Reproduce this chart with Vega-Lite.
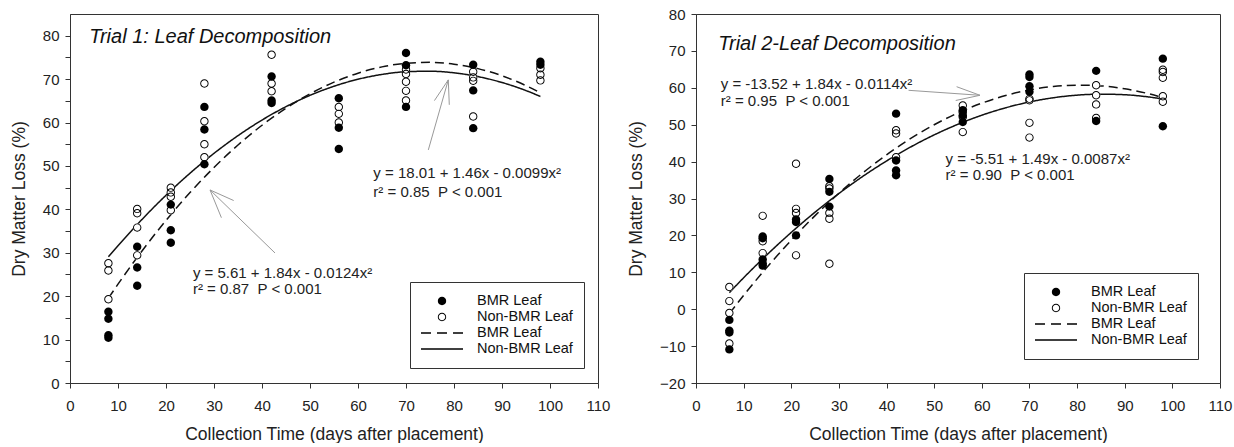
{
  "$schema": "https://vega.github.io/schema/vega-lite/v6.json",
  "padding": {"left": 9, "top": 6, "right": 0, "bottom": 0},
  "background": "white",
  "config": {
    "font": "Liberation Sans",
    "view": {"stroke": "#333", "strokeWidth": 1},
    "axis": {"domainColor": "#333", "domainWidth": 1, "tickColor": "#333", "tickSize": 5, "tickWidth": 1, "labelFont": "Liberation Sans", "labelFontSize": 15, "labelColor": "#222", "titleFont": "Liberation Sans", "titleFontSize": 17.5, "titleFontWeight": "normal", "titleColor": "#222", "grid": false, "labelFlush": false, "labelOverlap": false},
    "axisX": {"labelPadding": 10, "titlePadding": 12},
    "axisY": {"labelPadding": 6, "titlePadding": 14}
  },
  "datasets": {
    "t1pts": [
      {"day": 8, "loss": 16.4, "type": "BMR Leaf"}, {"day": 8, "loss": 14.8, "type": "BMR Leaf"}, {"day": 8, "loss": 11.0, "type": "BMR Leaf"}, {"day": 8, "loss": 10.4, "type": "BMR Leaf"},
      {"day": 14, "loss": 31.4, "type": "BMR Leaf"}, {"day": 14, "loss": 26.6, "type": "BMR Leaf"}, {"day": 14, "loss": 22.4, "type": "BMR Leaf"},
      {"day": 21, "loss": 41.1, "type": "BMR Leaf"}, {"day": 21, "loss": 35.2, "type": "BMR Leaf"}, {"day": 21, "loss": 32.3, "type": "BMR Leaf"},
      {"day": 28, "loss": 63.6, "type": "BMR Leaf"}, {"day": 28, "loss": 58.4, "type": "BMR Leaf"}, {"day": 28, "loss": 50.4, "type": "BMR Leaf"},
      {"day": 42, "loss": 70.6, "type": "BMR Leaf"}, {"day": 42, "loss": 65.1, "type": "BMR Leaf"}, {"day": 42, "loss": 64.5, "type": "BMR Leaf"},
      {"day": 56, "loss": 65.6, "type": "BMR Leaf"}, {"day": 56, "loss": 58.8, "type": "BMR Leaf"}, {"day": 56, "loss": 53.9, "type": "BMR Leaf"},
      {"day": 70, "loss": 76.0, "type": "BMR Leaf"}, {"day": 70, "loss": 73.2, "type": "BMR Leaf"}, {"day": 70, "loss": 63.6, "type": "BMR Leaf"},
      {"day": 84, "loss": 73.3, "type": "BMR Leaf"}, {"day": 84, "loss": 67.4, "type": "BMR Leaf"}, {"day": 84, "loss": 58.7, "type": "BMR Leaf"},
      {"day": 98, "loss": 74.0, "type": "BMR Leaf"}, {"day": 98, "loss": 73.3, "type": "BMR Leaf"},
      {"day": 8, "loss": 27.6, "type": "Non-BMR Leaf"}, {"day": 8, "loss": 25.9, "type": "Non-BMR Leaf"}, {"day": 8, "loss": 19.3, "type": "Non-BMR Leaf"},
      {"day": 14, "loss": 40.1, "type": "Non-BMR Leaf"}, {"day": 14, "loss": 39.1, "type": "Non-BMR Leaf"}, {"day": 14, "loss": 35.8, "type": "Non-BMR Leaf"}, {"day": 14, "loss": 29.4, "type": "Non-BMR Leaf"},
      {"day": 21, "loss": 45.0, "type": "Non-BMR Leaf"}, {"day": 21, "loss": 43.9, "type": "Non-BMR Leaf"}, {"day": 21, "loss": 42.9, "type": "Non-BMR Leaf"}, {"day": 21, "loss": 39.8, "type": "Non-BMR Leaf"},
      {"day": 28, "loss": 69.0, "type": "Non-BMR Leaf"}, {"day": 28, "loss": 60.3, "type": "Non-BMR Leaf"}, {"day": 28, "loss": 55.0, "type": "Non-BMR Leaf"}, {"day": 28, "loss": 52.0, "type": "Non-BMR Leaf"},
      {"day": 42, "loss": 75.6, "type": "Non-BMR Leaf"}, {"day": 42, "loss": 69.0, "type": "Non-BMR Leaf"}, {"day": 42, "loss": 67.2, "type": "Non-BMR Leaf"},
      {"day": 56, "loss": 63.6, "type": "Non-BMR Leaf"}, {"day": 56, "loss": 62.0, "type": "Non-BMR Leaf"}, {"day": 56, "loss": 60.0, "type": "Non-BMR Leaf"},
      {"day": 70, "loss": 72.2, "type": "Non-BMR Leaf"}, {"day": 70, "loss": 71.2, "type": "Non-BMR Leaf"}, {"day": 70, "loss": 69.4, "type": "Non-BMR Leaf"}, {"day": 70, "loss": 67.3, "type": "Non-BMR Leaf"}, {"day": 70, "loss": 65.1, "type": "Non-BMR Leaf"},
      {"day": 84, "loss": 71.7, "type": "Non-BMR Leaf"}, {"day": 84, "loss": 70.4, "type": "Non-BMR Leaf"}, {"day": 84, "loss": 69.6, "type": "Non-BMR Leaf"}, {"day": 84, "loss": 61.4, "type": "Non-BMR Leaf"},
      {"day": 98, "loss": 72.5, "type": "Non-BMR Leaf"}, {"day": 98, "loss": 71.0, "type": "Non-BMR Leaf"}, {"day": 98, "loss": 69.7, "type": "Non-BMR Leaf"}
    ],
    "t1fit": [
      {"day": 8, "loss": 19.54, "type": "BMR Leaf"}, {"day": 10, "loss": 22.77, "type": "BMR Leaf"}, {"day": 15, "loss": 30.42, "type": "BMR Leaf"}, {"day": 20, "loss": 37.45, "type": "BMR Leaf"}, {"day": 25, "loss": 43.86, "type": "BMR Leaf"}, {"day": 30, "loss": 49.65, "type": "BMR Leaf"}, {"day": 35, "loss": 54.82, "type": "BMR Leaf"}, {"day": 40, "loss": 59.37, "type": "BMR Leaf"}, {"day": 45, "loss": 63.30, "type": "BMR Leaf"}, {"day": 50, "loss": 66.61, "type": "BMR Leaf"}, {"day": 55, "loss": 69.30, "type": "BMR Leaf"}, {"day": 60, "loss": 71.37, "type": "BMR Leaf"}, {"day": 65, "loss": 72.82, "type": "BMR Leaf"}, {"day": 70, "loss": 73.65, "type": "BMR Leaf"}, {"day": 75, "loss": 73.86, "type": "BMR Leaf"}, {"day": 80, "loss": 73.45, "type": "BMR Leaf"}, {"day": 85, "loss": 72.42, "type": "BMR Leaf"}, {"day": 90, "loss": 70.77, "type": "BMR Leaf"}, {"day": 95, "loss": 68.50, "type": "BMR Leaf"}, {"day": 98, "loss": 66.84, "type": "BMR Leaf"},
      {"day": 8, "loss": 29.06, "type": "Non-BMR Leaf"}, {"day": 10, "loss": 31.62, "type": "Non-BMR Leaf"}, {"day": 15, "loss": 37.68, "type": "Non-BMR Leaf"}, {"day": 20, "loss": 43.25, "type": "Non-BMR Leaf"}, {"day": 25, "loss": 48.32, "type": "Non-BMR Leaf"}, {"day": 30, "loss": 52.90, "type": "Non-BMR Leaf"}, {"day": 35, "loss": 56.98, "type": "Non-BMR Leaf"}, {"day": 40, "loss": 60.57, "type": "Non-BMR Leaf"}, {"day": 45, "loss": 63.66, "type": "Non-BMR Leaf"}, {"day": 50, "loss": 66.26, "type": "Non-BMR Leaf"}, {"day": 55, "loss": 68.36, "type": "Non-BMR Leaf"}, {"day": 60, "loss": 69.97, "type": "Non-BMR Leaf"}, {"day": 65, "loss": 71.08, "type": "Non-BMR Leaf"}, {"day": 70, "loss": 71.70, "type": "Non-BMR Leaf"}, {"day": 75, "loss": 71.82, "type": "Non-BMR Leaf"}, {"day": 80, "loss": 71.45, "type": "Non-BMR Leaf"}, {"day": 85, "loss": 70.58, "type": "Non-BMR Leaf"}, {"day": 90, "loss": 69.22, "type": "Non-BMR Leaf"}, {"day": 95, "loss": 67.36, "type": "Non-BMR Leaf"}, {"day": 98, "loss": 66.01, "type": "Non-BMR Leaf"}
    ],
    "t1notes": [
      {"day": 25.6, "loss": 25.3, "label": "y = 5.61 + 1.84x - 0.0124x²"},
      {"day": 25.6, "loss": 21.7, "label": "r² = 0.87 \u00a0P < 0.001"},
      {"day": 63.2, "loss": 48.3, "label": "y = 18.01 + 1.46x - 0.0099x²"},
      {"day": 63.2, "loss": 44.1, "label": "r² = 0.85 \u00a0P < 0.001"}
    ],
    "t1title": [{"day": 4.0, "loss": 79.8, "label": "Trial 1: Leaf Decomposition"}],
    "t1arrows": [
      {"day": 42.71, "loss": 29.95, "day2": 29.17, "loss2": 44.47},
      {"day": 29.17, "loss": 44.47, "day2": 31.54, "loss2": 38.08},
      {"day": 29.17, "loss": 44.47, "day2": 34.10, "loss2": 42.03},
      {"day": 74.65, "loss": 53.69, "day2": 78.81, "loss2": 69.82},
      {"day": 78.81, "loss": 69.82, "day2": 75.92, "loss2": 65.05},
      {"day": 78.81, "loss": 69.82, "day2": 79.02, "loss2": 64.08}
    ],
    "t2pts": [
      {"day": 7, "loss": -2.9, "type": "BMR Leaf"}, {"day": 7, "loss": -5.8, "type": "BMR Leaf"}, {"day": 7, "loss": -6.3, "type": "BMR Leaf"}, {"day": 7, "loss": -10.9, "type": "BMR Leaf"},
      {"day": 14, "loss": 19.7, "type": "BMR Leaf"}, {"day": 14, "loss": 19.2, "type": "BMR Leaf"}, {"day": 14, "loss": 13.5, "type": "BMR Leaf"}, {"day": 14, "loss": 12.4, "type": "BMR Leaf"}, {"day": 14, "loss": 11.8, "type": "BMR Leaf"},
      {"day": 21, "loss": 24.3, "type": "BMR Leaf"}, {"day": 21, "loss": 23.6, "type": "BMR Leaf"}, {"day": 21, "loss": 20.0, "type": "BMR Leaf"},
      {"day": 28, "loss": 35.3, "type": "BMR Leaf"}, {"day": 28, "loss": 31.8, "type": "BMR Leaf"}, {"day": 28, "loss": 27.8, "type": "BMR Leaf"},
      {"day": 42, "loss": 53.0, "type": "BMR Leaf"}, {"day": 42, "loss": 40.3, "type": "BMR Leaf"}, {"day": 42, "loss": 37.6, "type": "BMR Leaf"}, {"day": 42, "loss": 36.3, "type": "BMR Leaf"},
      {"day": 56, "loss": 53.9, "type": "BMR Leaf"}, {"day": 56, "loss": 52.5, "type": "BMR Leaf"}, {"day": 56, "loss": 50.7, "type": "BMR Leaf"},
      {"day": 70, "loss": 63.6, "type": "BMR Leaf"}, {"day": 70, "loss": 62.9, "type": "BMR Leaf"}, {"day": 70, "loss": 60.4, "type": "BMR Leaf"}, {"day": 70, "loss": 58.9, "type": "BMR Leaf"},
      {"day": 84, "loss": 64.6, "type": "BMR Leaf"}, {"day": 84, "loss": 51.0, "type": "BMR Leaf"},
      {"day": 98, "loss": 67.9, "type": "BMR Leaf"}, {"day": 98, "loss": 49.6, "type": "BMR Leaf"},
      {"day": 7, "loss": 6.0, "type": "Non-BMR Leaf"}, {"day": 7, "loss": 2.2, "type": "Non-BMR Leaf"}, {"day": 7, "loss": -1.0, "type": "Non-BMR Leaf"}, {"day": 7, "loss": -9.3, "type": "Non-BMR Leaf"},
      {"day": 14, "loss": 25.3, "type": "Non-BMR Leaf"}, {"day": 14, "loss": 18.4, "type": "Non-BMR Leaf"}, {"day": 14, "loss": 15.2, "type": "Non-BMR Leaf"},
      {"day": 21, "loss": 39.4, "type": "Non-BMR Leaf"}, {"day": 21, "loss": 27.2, "type": "Non-BMR Leaf"}, {"day": 21, "loss": 26.1, "type": "Non-BMR Leaf"}, {"day": 21, "loss": 14.6, "type": "Non-BMR Leaf"},
      {"day": 28, "loss": 33.3, "type": "Non-BMR Leaf"}, {"day": 28, "loss": 32.7, "type": "Non-BMR Leaf"}, {"day": 28, "loss": 26.1, "type": "Non-BMR Leaf"}, {"day": 28, "loss": 24.5, "type": "Non-BMR Leaf"}, {"day": 28, "loss": 12.3, "type": "Non-BMR Leaf"},
      {"day": 42, "loss": 48.5, "type": "Non-BMR Leaf"}, {"day": 42, "loss": 47.6, "type": "Non-BMR Leaf"}, {"day": 42, "loss": 41.2, "type": "Non-BMR Leaf"},
      {"day": 56, "loss": 55.2, "type": "Non-BMR Leaf"}, {"day": 56, "loss": 53.4, "type": "Non-BMR Leaf"}, {"day": 56, "loss": 52.1, "type": "Non-BMR Leaf"}, {"day": 56, "loss": 48.0, "type": "Non-BMR Leaf"},
      {"day": 70, "loss": 57.0, "type": "Non-BMR Leaf"}, {"day": 70, "loss": 56.6, "type": "Non-BMR Leaf"}, {"day": 70, "loss": 50.5, "type": "Non-BMR Leaf"}, {"day": 70, "loss": 46.5, "type": "Non-BMR Leaf"},
      {"day": 84, "loss": 60.7, "type": "Non-BMR Leaf"}, {"day": 84, "loss": 58.0, "type": "Non-BMR Leaf"}, {"day": 84, "loss": 55.5, "type": "Non-BMR Leaf"}, {"day": 84, "loss": 51.8, "type": "Non-BMR Leaf"},
      {"day": 98, "loss": 64.9, "type": "Non-BMR Leaf"}, {"day": 98, "loss": 64.3, "type": "Non-BMR Leaf"}, {"day": 98, "loss": 62.7, "type": "Non-BMR Leaf"}, {"day": 98, "loss": 57.7, "type": "Non-BMR Leaf"}, {"day": 98, "loss": 56.2, "type": "Non-BMR Leaf"}
    ],
    "t2fit": [
      {"day": 7, "loss": -1.20, "type": "BMR Leaf"}, {"day": 10, "loss": 3.74, "type": "BMR Leaf"}, {"day": 15, "loss": 11.52, "type": "BMR Leaf"}, {"day": 20, "loss": 18.72, "type": "BMR Leaf"}, {"day": 25, "loss": 25.36, "type": "BMR Leaf"}, {"day": 30, "loss": 31.42, "type": "BMR Leaf"}, {"day": 35, "loss": 36.92, "type": "BMR Leaf"}, {"day": 40, "loss": 41.84, "type": "BMR Leaf"}, {"day": 45, "loss": 46.20, "type": "BMR Leaf"}, {"day": 50, "loss": 49.98, "type": "BMR Leaf"}, {"day": 55, "loss": 53.20, "type": "BMR Leaf"}, {"day": 60, "loss": 55.84, "type": "BMR Leaf"}, {"day": 65, "loss": 57.92, "type": "BMR Leaf"}, {"day": 70, "loss": 59.42, "type": "BMR Leaf"}, {"day": 75, "loss": 60.36, "type": "BMR Leaf"}, {"day": 80, "loss": 60.72, "type": "BMR Leaf"}, {"day": 85, "loss": 60.52, "type": "BMR Leaf"}, {"day": 90, "loss": 59.74, "type": "BMR Leaf"}, {"day": 95, "loss": 58.40, "type": "BMR Leaf"}, {"day": 98, "loss": 57.31, "type": "BMR Leaf"},
      {"day": 7, "loss": 4.49, "type": "Non-BMR Leaf"}, {"day": 10, "loss": 8.52, "type": "Non-BMR Leaf"}, {"day": 15, "loss": 14.88, "type": "Non-BMR Leaf"}, {"day": 20, "loss": 20.81, "type": "Non-BMR Leaf"}, {"day": 25, "loss": 26.30, "type": "Non-BMR Leaf"}, {"day": 30, "loss": 31.36, "type": "Non-BMR Leaf"}, {"day": 35, "loss": 35.98, "type": "Non-BMR Leaf"}, {"day": 40, "loss": 40.17, "type": "Non-BMR Leaf"}, {"day": 45, "loss": 43.92, "type": "Non-BMR Leaf"}, {"day": 50, "loss": 47.24, "type": "Non-BMR Leaf"}, {"day": 55, "loss": 50.12, "type": "Non-BMR Leaf"}, {"day": 60, "loss": 52.57, "type": "Non-BMR Leaf"}, {"day": 65, "loss": 54.58, "type": "Non-BMR Leaf"}, {"day": 70, "loss": 56.16, "type": "Non-BMR Leaf"}, {"day": 75, "loss": 57.30, "type": "Non-BMR Leaf"}, {"day": 80, "loss": 58.01, "type": "Non-BMR Leaf"}, {"day": 85, "loss": 58.28, "type": "Non-BMR Leaf"}, {"day": 90, "loss": 58.12, "type": "Non-BMR Leaf"}, {"day": 95, "loss": 57.52, "type": "Non-BMR Leaf"}, {"day": 98, "loss": 56.96, "type": "Non-BMR Leaf"}
    ],
    "t2notes": [
      {"day": 5.2, "loss": 61.1, "label": "y = -13.52 + 1.84x - 0.0114x²"},
      {"day": 5.2, "loss": 56.4, "label": "r² = 0.95 \u00a0P < 0.001"},
      {"day": 52.4, "loss": 40.8, "label": "y = -5.51 + 1.49x - 0.0087x²"},
      {"day": 52.4, "loss": 36.3, "label": "r² = 0.90 \u00a0P < 0.001"}
    ],
    "t2title": [{"day": 4.67, "loss": 72.0, "label": "Trial 2-Leaf Decomposition"}],
    "t2arrows": [
      {"day": 44.62, "loss": 59.32, "day2": 59.62, "loss2": 57.97},
      {"day": 59.62, "loss": 57.97, "day2": 54.71, "loss2": 60.30},
      {"day": 59.62, "loss": 57.97, "day2": 54.52, "loss2": 56.56}
    ]
  },
  "hconcat": [
    {
      "width": 528,
      "height": 369,
      "encoding": {
        "x": {"field": "day", "type": "quantitative", "scale": {"domain": [0, 110], "nice": false, "zero": false}, "axis": {"title": "Collection Time (days after placement)", "values": [0, 10, 20, 30, 40, 50, 60, 70, 80, 90, 100, 110]}},
        "y": {"field": "loss", "type": "quantitative", "scale": {"domain": [0, 85], "nice": false, "zero": false}, "axis": {"title": "Dry Matter Loss (%)", "values": [0, 5, 10, 15, 20, 25, 30, 35, 40, 45, 50, 55, 60, 65, 70, 75, 80], "labelExpr": "datum.value % 10 === 0 ? datum.label : ''"}}
      },
      "layer": [
        {"data": {"name": "t1arrows"}, "mark": {"type": "rule", "color": "#999", "strokeWidth": 1}, "encoding": {"x2": {"field": "day2"}, "y2": {"field": "loss2"}}},
        {"data": {"name": "t1fit"}, "mark": {"type": "line", "color": "#111", "strokeWidth": 1.5, "interpolate": "monotone"}, "encoding": {"strokeDash": {"field": "type", "type": "nominal", "scale": {"domain": ["BMR Leaf", "Non-BMR Leaf"], "range": [[9, 5], [1, 0]]}, "legend": null}}},
        {"data": {"name": "t1pts"}, "transform": [{"filter": "datum.type === 'Non-BMR Leaf'"}], "mark": {"type": "point", "shape": "circle", "filled": true, "color": "white", "size": 70, "opacity": 1, "strokeWidth": 0}},
        {"data": {"name": "t1pts"}, "mark": {"type": "point", "filled": true, "color": "black", "size": 1764, "opacity": 1, "strokeWidth": 0},
          "encoding": {"shape": {"field": "type", "type": "nominal",
            "scale": {"domain": ["BMR Leaf", "Non-BMR Leaf", "BMR Leaf line", "Non-BMR Leaf line"],
              "range": ["M0.2,0A0.2,0.2,0,1,1,-0.2,0A0.2,0.2,0,1,1,0.2,0Z", "M0.2,0A0.2,0.2,0,1,1,-0.2,0A0.2,0.2,0,1,1,0.2,0ZM0.155,0A0.155,0.155,0,1,0,-0.155,0A0.155,0.155,0,1,0,0.155,0Z", "M-1,-0.031H-0.524V0.031H-1ZM-0.238,-0.031H0.238V0.031H-0.238ZM0.524,-0.031H1V0.031H0.524Z", "M-1,-0.031H1V0.031H-1Z"]},
            "legend": {"orient": "none", "legendX": 340, "legendY": 268, "title": null, "symbolSize": 1764, "clipHeight": 16, "rowPadding": 0, "labelOffset": 14, "labelFontSize": 14.5, "labelFont": "Liberation Sans", "labelColor": "#111", "strokeColor": "#333", "fillColor": "white", "padding": 11, "symbolStrokeWidth": 0, "symbolFillColor": "black", "labelExpr": "replace(datum.label, ' line', '')"}}}},
        {"data": {"name": "t1notes"}, "mark": {"type": "text", "align": "left", "baseline": "middle", "font": "Liberation Sans", "fontSize": 15, "color": "#222"}, "encoding": {"text": {"field": "label"}}},
        {"data": {"name": "t1title"}, "mark": {"type": "text", "align": "left", "baseline": "middle", "font": "Liberation Sans", "fontSize": 20, "fontStyle": "italic", "color": "#111"}, "encoding": {"text": {"field": "label"}}}
      ]
    },
    {
      "width": 524,
      "height": 369,
      "encoding": {
        "x": {"field": "day", "type": "quantitative", "scale": {"domain": [0, 110], "nice": false, "zero": false}, "axis": {"title": "Collection Time (days after placement)", "values": [0, 10, 20, 30, 40, 50, 60, 70, 80, 90, 100, 110]}},
        "y": {"field": "loss", "type": "quantitative", "scale": {"domain": [-20, 80], "nice": false, "zero": false}, "axis": {"title": "Dry Matter Loss (%)", "values": [-20, -10, 0, 10, 20, 30, 40, 50, 60, 70, 80]}}
      },
      "layer": [
        {"data": {"name": "t2arrows"}, "mark": {"type": "rule", "color": "#999", "strokeWidth": 1}, "encoding": {"x2": {"field": "day2"}, "y2": {"field": "loss2"}}},
        {"data": {"name": "t2fit"}, "mark": {"type": "line", "color": "#111", "strokeWidth": 1.5, "interpolate": "monotone"}, "encoding": {"strokeDash": {"field": "type", "type": "nominal", "scale": {"domain": ["BMR Leaf", "Non-BMR Leaf"], "range": [[9, 5], [1, 0]]}, "legend": null}}},
        {"data": {"name": "t2pts"}, "transform": [{"filter": "datum.type === 'Non-BMR Leaf'"}], "mark": {"type": "point", "shape": "circle", "filled": true, "color": "white", "size": 70, "opacity": 1, "strokeWidth": 0}},
        {"data": {"name": "t2pts"}, "mark": {"type": "point", "filled": true, "color": "black", "size": 1764, "opacity": 1, "strokeWidth": 0},
          "encoding": {"shape": {"field": "type", "type": "nominal",
            "scale": {"domain": ["BMR Leaf", "Non-BMR Leaf", "BMR Leaf line", "Non-BMR Leaf line"],
              "range": ["M0.2,0A0.2,0.2,0,1,1,-0.2,0A0.2,0.2,0,1,1,0.2,0Z", "M0.2,0A0.2,0.2,0,1,1,-0.2,0A0.2,0.2,0,1,1,0.2,0ZM0.155,0A0.155,0.155,0,1,0,-0.155,0A0.155,0.155,0,1,0,0.155,0Z", "M-1,-0.031H-0.524V0.031H-1ZM-0.238,-0.031H0.238V0.031H-0.238ZM0.524,-0.031H1V0.031H0.524Z", "M-1,-0.031H1V0.031H-1Z"]},
            "legend": {"orient": "none", "legendX": 328, "legendY": 259, "title": null, "symbolSize": 1764, "clipHeight": 16, "rowPadding": 0, "labelOffset": 14, "labelFontSize": 14.5, "labelFont": "Liberation Sans", "labelColor": "#111", "strokeColor": "#333", "fillColor": "white", "padding": 11, "symbolStrokeWidth": 0, "symbolFillColor": "black", "labelExpr": "replace(datum.label, ' line', '')"}}}},
        {"data": {"name": "t2notes"}, "mark": {"type": "text", "align": "left", "baseline": "middle", "font": "Liberation Sans", "fontSize": 15, "color": "#222"}, "encoding": {"text": {"field": "label"}}},
        {"data": {"name": "t2title"}, "mark": {"type": "text", "align": "left", "baseline": "middle", "font": "Liberation Sans", "fontSize": 20, "fontStyle": "italic", "color": "#111"}, "encoding": {"text": {"field": "label"}}}
      ]
    }
  ],
  "resolve": {"scale": {"shape": "independent", "strokeDash": "independent"}, "legend": {"shape": "independent"}},
  "spacing": 98,
  "bounds": "flush"
}
